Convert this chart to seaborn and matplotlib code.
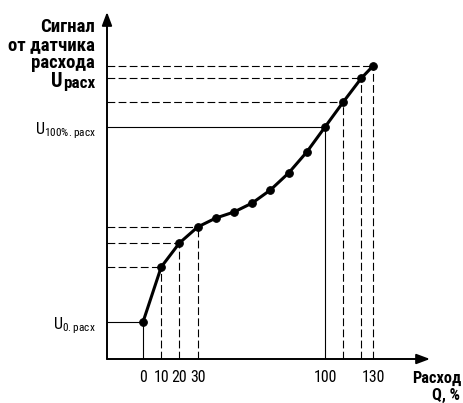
import os
import seaborn as sns
import matplotlib.pyplot as plt
from matplotlib import font_manager as fm
from matplotlib.textpath import TextPath

# flow, % and sensor signal (U0 = 0, U100 = 100)
flow = [0, 10, 20, 30, 40, 50, 60, 70, 80, 90, 100, 110, 120, 126.4]
signal = [0, 28.2, 40.5, 48.7, 53.3, 56.4, 61.0, 67.7, 76.4, 87.2, 100, 112.8, 125.1, 131.3]

xtick_pos = [0, 10, 20, 30, 100, 126.4]
xtick_labels = ['0', '10', '20', '30', '100', '130']
ytick_pos = [0, 100]
ytick_labels = [r'U$_{\mathregular{0.расх}}$', r'U$_{\mathregular{100\%.расх}}$']

solid_idx = [0, 10]
dashed_idx = [1, 2, 3, 11, 12, 13]

title_lines = ['Сигнал', 'от датчика', 'расхода']
xtitle_lines = ['Расход', 'Q, %']

sns.set_style('white')
plt.rcParams['text.color'] = 'black'
plt.rcParams['xtick.color'] = 'black'
plt.rcParams['ytick.color'] = 'black'

# condensed families, (bold file, regular file) name starts, in order of preference
families = [('robotocondensed-bold.', 'robotocondensed-regular.'),
            ('pt_sans-narrow-web-bold', 'pt_sans-narrow-web-regular'),
            ('ptsansnarrow-bold', 'ptsansnarrow-regular'),
            ('firasanscondensed-bold.', 'firasanscondensed-regular.'),
            ('liberationsansnarrow-bold.', 'liberationsansnarrow-regular.'),
            ('archivonarrow-bold.', 'archivonarrow-regular.'),
            ('dejavusanscondensed-bold.', 'dejavusanscondensed.')]


def has_cyr(fname):
    try:
        return fm.get_font(fname).get_char_index(ord('д')) != 0
    except Exception:
        return False


files = {}
for f in fm.fontManager.ttflist:
    files.setdefault(os.path.basename(f.fname).lower(), f.fname)


def find(start):
    for base, path in sorted(files.items()):
        if base.startswith(start) and has_cyr(path):
            return path
    return None


bold_file = reg_file = None
for b, r in families:
    fb, fr = find(b), find(r)
    if fb and fr:
        bold_file, reg_file = fb, fr
        break
if bold_file is None:
    bold_file = fm.findfont(fm.FontProperties(family='Liberation Sans', weight='bold'))
    reg_file = fm.findfont(fm.FontProperties(family='Liberation Sans'))


def ink(fname, s, size=100):
    ext = TextPath((0, 0), s, prop=fm.FontProperties(fname=fname, size=size)).get_extents()
    return ext.width, ext.height


def fp(fname, cap_px, sample=None, max_w=None):
    # size from cap height, shrunk if the sample gets wider than in the picture
    cap = ink(fname, 'Н')[1] / 100.0
    size = cap_px / cap * 0.72
    if sample is not None:
        w_px = ink(fname, sample)[0] / 100.0 * size / 0.72
        if w_px > max_w:
            size *= max_w / w_px
    return fm.FontProperties(fname=fname, size=size)


fig = plt.figure(figsize=(4.63, 4.03), dpi=100)
W, H = 463.0, 403.0
ax = fig.add_axes([107 / W, 1 - 359 / H, (430 - 107) / W, (359 - 12) / H])
ax.set_xlim(-19.8, 157.7)
ax.set_ylim(-19.0, 159.0)

x0 = ax.get_xlim()[0]
y0 = ax.get_ylim()[0]
for i in solid_idx:
    ax.hlines(signal[i], x0, flow[i], color='black', lw=0.8)
    ax.vlines(flow[i], y0, signal[i], color='black', lw=0.8)
for i in dashed_idx:
    ax.hlines(signal[i], x0, flow[i], color='black', lw=0.8, linestyles=(0, (7, 3)))
    ax.vlines(flow[i], y0, signal[i], color='black', lw=0.8, linestyles=(0, (7, 3)))

sns.lineplot(x=flow, y=signal, ax=ax, color='black', lw=2.2, marker='o',
             markersize=5.5, markeredgecolor='black', zorder=5)

for s in ax.spines.values():
    s.set_visible(False)
arrow = dict(arrowstyle='-|>,head_length=0.8,head_width=0.3', color='black', lw=1.4,
             shrinkA=0, shrinkB=0)
ax.annotate('', xy=(1, 0), xytext=(0, 0), xycoords='axes fraction', arrowprops=arrow)
ax.annotate('', xy=(0, 1), xytext=(0, 0), xycoords='axes fraction', arrowprops=arrow)

ax.set_xticks(xtick_pos)
ax.set_xticklabels(xtick_labels, fontproperties=fp(reg_file, 11.3, '100', 23))
ax.set_yticks(ytick_pos)
ax.set_yticklabels(ytick_labels, fontproperties=fp(reg_file, 11.5, '100', 23))
ax.tick_params(axis='both', length=0)
ax.tick_params(axis='x', pad=8)
ax.tick_params(axis='y', pad=8)
ax.grid(False)

# y axis title, line by line
title_font = fp(bold_file, 13.3, 'от датчика', 86)
for line, base in zip(title_lines, [31.5, 50.0, 68.3]):
    fig.text(95 / W, 1 - base / H, line, ha='right', va='baseline', fontproperties=title_font)
sub = fig.text(95 / W, 1 - 88.3 / H, 'расх', ha='right', va='baseline',
               fontproperties=fp(bold_file, 12.5, 'расх', 31))
fig.canvas.draw()
bb = sub.get_window_extent(fig.canvas.get_renderer())
fig.text(bb.x0 / fig.bbox.width, 1 - 86.7 / H, 'U', ha='right', va='baseline',
         fontproperties=fp(bold_file, 14.5, 'U', 12))

# x axis title
xtitle_font = fp(bold_file, 11.6, 'Расход', 55)
for line, base, right in zip(xtitle_lines, [382.7, 399.5], [461.5, 460.5]):
    fig.text(right / W, 1 - base / H, line, ha='right', va='baseline', fontproperties=xtitle_font)

plt.savefig('out.png', dpi=100)
